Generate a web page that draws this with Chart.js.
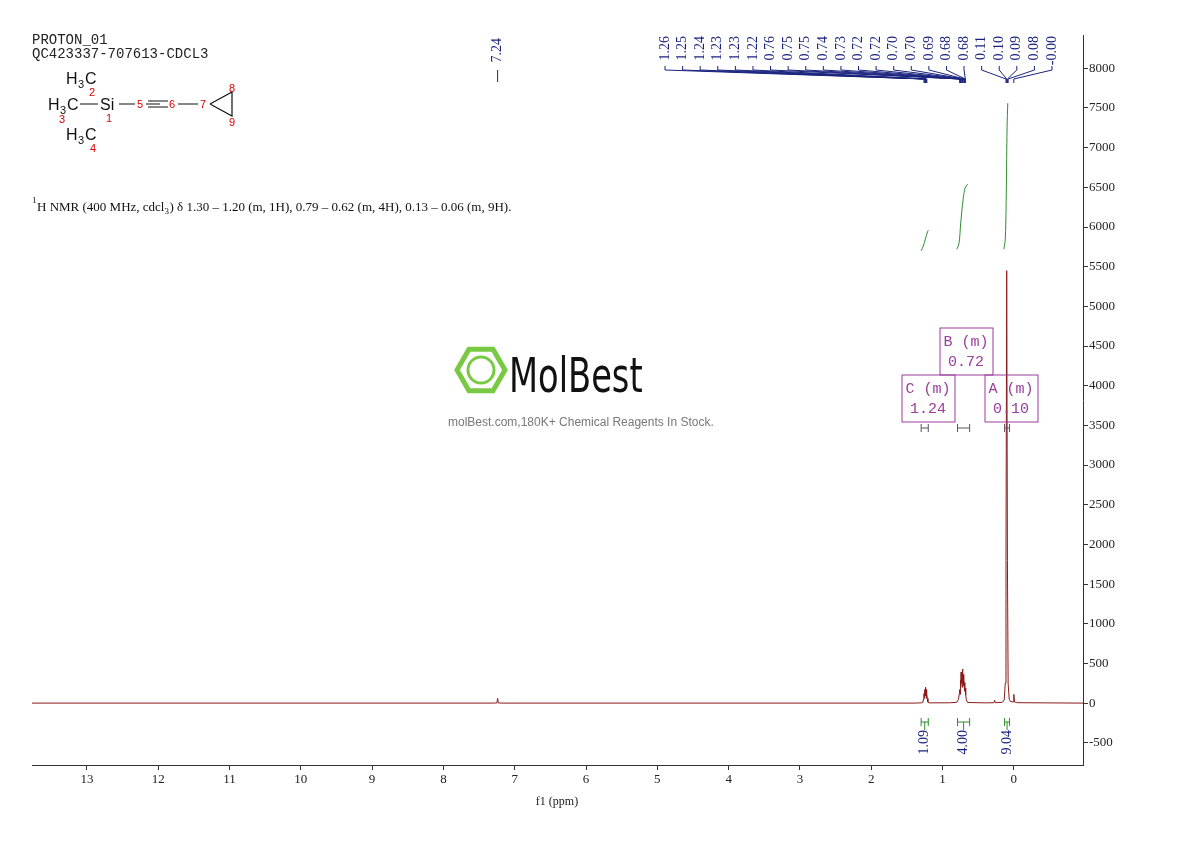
<!DOCTYPE html>
<html><head><meta charset="utf-8">
<script src="https://cdn.jsdelivr.net/npm/chart.js@4/dist/chart.umd.min.js"></script>
<style>html,body{margin:0;padding:0;background:#fff}</style></head>
<body><canvas id="c" width="1190" height="841"></canvas>
<script>
const spectrum = [
 [13.77,0],[7.30,0],[7.25,2],[7.24,60],[7.23,2],[7.18,0],[1.40,0],[1.30,3],[1.275,12],[1.265,60],[1.26,120],[1.255,60],[1.25,170],[1.245,90],[1.24,200],[1.235,90],[1.23,170],[1.225,60],[1.22,120],[1.215,60],[1.205,12],[1.19,3],[0.90,4],
 [0.80,10],[0.775,50],[0.765,120],[0.76,170],[0.755,110],[0.75,290],[0.745,200],[0.74,390],[0.735,250],[0.73,310],[0.725,200],[0.72,430],[0.715,250],[0.71,360],[0.705,220],[0.70,310],[0.695,200],[0.69,260],[0.685,150],[0.68,190],[0.675,100],[0.665,40],[0.65,8],
 [0.40,3],[0.28,5],[0.27,35],[0.26,5],[0.16,10],[0.135,40],[0.12,250],[0.11,1800],[0.10,5450],[0.09,1800],[0.08,250],[0.065,50],[0.05,20],[0.01,15],[0.00,110],[-0.01,15],[-0.05,5],[-0.97,0]
];
const integralC = [[1.30,5700],[1.27,5760],[1.24,5850],[1.21,5940],[1.20,5960]];
const integralB = [[0.80,5720],[0.77,5790],[0.745,6050],[0.72,6280],[0.70,6420],[0.68,6500],[0.645,6540]];
const integralA = [[0.14,5720],[0.12,5850],[0.105,6500],[0.095,7250],[0.085,7560]];
const peakLabels = ["1.26","1.25","1.24","1.23","1.23","1.22","0.76","0.75","0.75","0.74","0.73","0.72","0.72","0.70","0.70","0.69","0.68","0.68","0.11","0.10","0.09","0.08","-0.00"];
const peakPpm = [1.26,1.25,1.24,1.23,1.23,1.22,0.76,0.75,0.75,0.74,0.73,0.72,0.72,0.70,0.70,0.69,0.68,0.68,0.11,0.10,0.09,0.08,0.00];
const multiplets = [{name:"C (m)",shift:"1.24",from:1.30,to:1.20,integ:"1.09"},{name:"B (m)",shift:"0.72",from:0.79,to:0.62,integ:"4.00"},{name:"A (m)",shift:"0.10",from:0.13,to:0.06,integ:"9.04"}];
const xTicks = [0,1,2,3,4,5,6,7,8,9,10,11,12,13];
const yTicks = [-500,0,500,1000,1500,2000,2500,3000,3500,4000,4500,5000,5500,6000,6500,7000,7500,8000];
const toXY = a => a.map(p=>({x:p[0],y:p[1]}));

const deco = {
 id:'deco',
 afterDraw(ch){
  const c=ch.ctx, xs=ch.scales.x, ys=ch.scales.y;
  c.save();
  c.fillStyle='#222'; c.font='14px "Liberation Mono", monospace'; c.textBaseline='alphabetic';
  c.fillText('PROTON_01',32,44); c.fillText('QC423337-707613-CDCL3',32,58);
  c.font='16px "Liberation Sans", Arial'; c.fillStyle='#111';
  c.fillText('H',66,84); c.font='11px "Liberation Sans"'; c.fillText('3',78,88); c.font='16px "Liberation Sans"'; c.fillText('C',85,84);
  c.fillText('H',48,110); c.font='11px "Liberation Sans"'; c.fillText('3',60,114); c.font='16px "Liberation Sans"'; c.fillText('C',67,110);
  c.fillText('Si',100,110);
  c.fillText('H',66,140); c.font='11px "Liberation Sans"'; c.fillText('3',78,144); c.font='16px "Liberation Sans"'; c.fillText('C',85,140);
  c.strokeStyle='#111'; c.lineWidth=1.2;
  c.beginPath();
  c.moveTo(80,104);c.lineTo(98,104);
  c.moveTo(119,104);c.lineTo(135,104); c.moveTo(146,104);c.lineTo(160,104);
  c.moveTo(178,104);c.lineTo(198,104);
  c.moveTo(210,104);c.lineTo(232,92);c.lineTo(232,116);c.lineTo(210,104);
  c.stroke();
  c.beginPath(); c.moveTo(148,101);c.lineTo(168,101);c.moveTo(148,107);c.lineTo(168,107); c.stroke();
  c.fillStyle='#d00'; c.font='11px "Liberation Sans"';
  c.fillText('2',89,96); c.fillText('1',106,122); c.fillText('3',59,123); c.fillText('4',90,152);
  c.fillText('5',137,108); c.fillText('6',169,108); c.fillText('7',200,108); c.fillText('8',229,92); c.fillText('9',229,126);
  c.fillStyle='#111';
  c.font='9px "Liberation Serif"'; c.fillText('1',32,203);
  c.font='13px "Liberation Serif"';
  c.fillText('H NMR (400 MHz, cdcl',37,211);
  let w=c.measureText('H NMR (400 MHz, cdcl').width;
  c.font='9px "Liberation Serif"'; c.fillText('3',37+w,214);
  c.font='13px "Liberation Serif"';
  c.fillText(') δ 1.30 – 1.20 (m, 1H), 0.79 – 0.62 (m, 4H), 0.13 – 0.06 (m, 9H).',42+w,211);
  // watermark
  c.strokeStyle='#7ac943'; c.lineWidth=5;
  const hx=481,hy=370,r=24;
  c.beginPath(); for(let i=0;i<6;i++){const a=Math.PI/3*i; const px=hx+r*Math.cos(a),py=hy+r*Math.sin(a); i?c.lineTo(px,py):c.moveTo(px,py);} c.closePath(); c.stroke();
  c.lineWidth=3; c.beginPath(); c.arc(hx,hy,13,0,Math.PI*2); c.stroke();
  c.save(); c.translate(509,392); c.scale(0.78,1);
  c.fillStyle='#111'; c.font='48px "DejaVu Sans Condensed", "Liberation Sans Narrow", sans-serif';
  c.fillText('MolBest',0,0); c.restore();
  c.fillStyle='#777'; c.font='12px "Liberation Sans", Arial'; c.fillText('molBest.com,180K+ Chemical Reagents In Stock.',448,426);
  // x title
  c.fillStyle='#222'; c.font='12px "Liberation Serif", serif'; c.textAlign='center';
  c.fillText('f1 (ppm)',557,805); c.textAlign='left';
  const navy='#1a237e';
  c.fillStyle=navy; c.strokeStyle=navy; c.lineWidth=1;
  const drawRot=(t,x,y,font)=>{c.save();c.translate(x,y);c.rotate(-Math.PI/2);c.font=font;c.textAlign='right';c.textBaseline='middle';c.fillText(t,0,0);c.restore();};
  const x724=xs.getPixelForValue(7.24);
  drawRot('7.24',x724,38,'14px "Liberation Serif"');
  c.beginPath();c.moveTo(x724,70);c.lineTo(x724,82);c.stroke();
  const n=peakLabels.length;
  for(let i=0;i<n;i++){
   const lx=665+i*(1052-665)/(n-1);
   drawRot(peakLabels[i],lx,36,'14px "Liberation Serif"');
   const px=xs.getPixelForValue(peakPpm[i]);
   c.beginPath();c.moveTo(lx,66);c.lineTo(lx,70);c.lineTo(px,79);c.lineTo(px,83);c.stroke();
  }
  const purple='#9b3d9b';
  const boxes=[[902,375],[940,328],[985,375]];
  multiplets.forEach((m,i)=>{
   const [bx,by]=boxes[i];
   c.strokeStyle=purple; c.lineWidth=1; c.strokeRect(bx,by,53,47);
   c.fillStyle=purple; c.font='15px "Liberation Mono", monospace'; c.textAlign='center'; c.textBaseline='middle';
   c.fillText(m.name,bx+26,by+14); c.fillText(m.shift,bx+26,by+34);
   const x1=xs.getPixelForValue(m.from), x2=xs.getPixelForValue(m.to);
   c.strokeStyle='#556'; c.beginPath(); c.moveTo(x1,428);c.lineTo(x2,428);c.moveTo(x1,424);c.lineTo(x1,432);c.moveTo(x2,424);c.lineTo(x2,432);c.stroke();
   c.strokeStyle='#2e8b2e'; c.beginPath(); c.moveTo(x1,722);c.lineTo(x2,722);c.moveTo(x1,718);c.lineTo(x1,726);c.moveTo(x2,718);c.lineTo(x2,726);
   c.moveTo((x1+x2)/2,722);c.lineTo((x1+x2)/2,730); c.stroke();
   c.fillStyle=navy; c.textAlign='left';
   drawRot(m.integ,(x1+x2)/2,730,'14px "Liberation Serif"');
  });
  c.restore();
 }
};

new Chart(document.getElementById('c'),{
 type:'line',
 data:{datasets:[
  {data:toXY(spectrum),borderColor:'#8b1a1a',borderWidth:1,pointRadius:0,tension:0},
  {data:toXY(integralC),borderColor:'#2e8b2e',borderWidth:1,pointRadius:0,tension:0.4},
  {data:toXY(integralB),borderColor:'#2e8b2e',borderWidth:1,pointRadius:0,tension:0.4},
  {data:toXY(integralA),borderColor:'#2e8b2e',borderWidth:1,pointRadius:0,tension:0.4}
 ]},
 options:{
  responsive:false,animation:false,devicePixelRatio:1,
  layout:{padding:{left:32,top:35,right:0,bottom:0}},
  plugins:{legend:{display:false},tooltip:{enabled:false}},
  scales:{
   x:{type:'linear',reverse:true,min:-0.97,max:13.77,
      afterFit:s=>{s.height=76;},
      afterBuildTicks:s=>{s.ticks=xTicks.map(v=>({value:v}));},
      grid:{display:true,drawOnChartArea:false,drawTicks:true,tickLength:5,tickColor:'#333'},
      border:{display:true,color:'#333'},
      ticks:{color:'#222',font:{family:'"Liberation Serif", serif',size:13},padding:2,maxRotation:0}},
   y:{type:'linear',position:'right',min:-780,max:8420,
      afterFit:s=>{s.width=107;},
      afterBuildTicks:s=>{s.ticks=yTicks.map(v=>({value:v}));},
      grid:{display:true,drawOnChartArea:false,drawTicks:true,tickLength:5,tickColor:'#333'},
      border:{display:true,color:'#333'},
      ticks:{color:'#222',font:{family:'"Liberation Serif", serif',size:13},padding:1,callback:v=>String(v)}}
  }
 },
 plugins:[deco]
});
</script></body></html>
